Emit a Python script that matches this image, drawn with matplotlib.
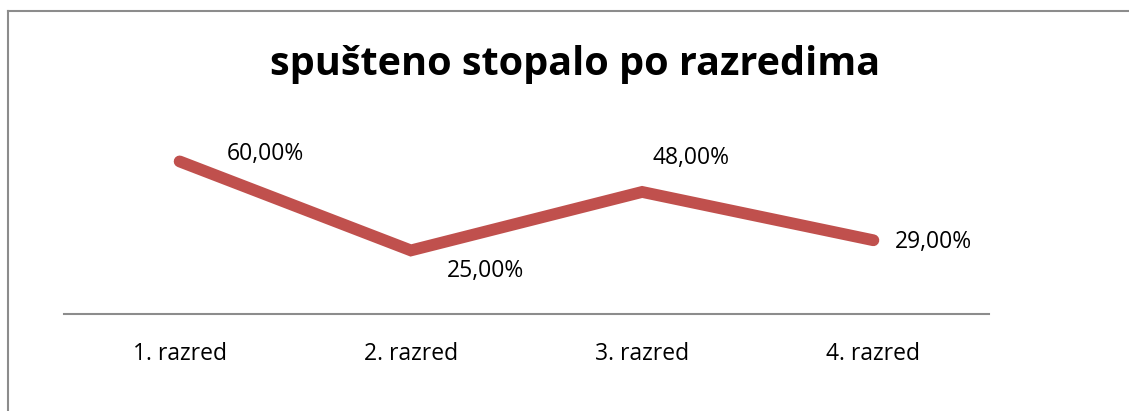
import matplotlib.pyplot as plt
from matplotlib.lines import Line2D

# data
razredi = ['1. razred', '2. razred', '3. razred', '4. razred']
postotci = [0.60, 0.25, 0.48, 0.29]
oznake = ['60,00%', '25,00%', '48,00%', '29,00%']
# label offsets in pixels (left edge of text, vertical centre)
pomaci = [(47, 7), (36, -21), (10, 34), (21, -2)]

plt.rcParams['font.family'] = ['Open Sans', 'DejaVu Sans']

fig = plt.figure(figsize=(11.29, 4.11), dpi=100)
fig.patch.set_facecolor('white')

# chart border: top and left edges only
W, H = 1129, 411
fig.lines.append(Line2D([8 / W, 1.0], [1 - 11 / H, 1 - 11 / H], transform=fig.transFigure,
                        color='#8c8c8c', linewidth=1.5))
fig.lines.append(Line2D([8 / W, 8 / W], [0, 1 - 11 / H], transform=fig.transFigure,
                        color='#8c8c8c', linewidth=1.5))

ax = fig.add_axes([64 / W, 97 / H, 925 / W, 178 / H])
x = range(len(razredi))
ax.plot(x, postotci, color='#C0504D', linewidth=8.5, solid_capstyle='round',
        solid_joinstyle='miter')

for xi, yi, txt, (dx, dy) in zip(x, postotci, oznake, pomaci):
    ax.annotate(txt, (xi, yi), xytext=(dx, dy), textcoords='offset pixels',
                ha='left', va='center', fontsize=16.5, color='black')

ax.set_xlim(-0.5, 3.5)
ax.set_ylim(0, 0.7)
ax.set_xticks(list(x))
ax.set_xticklabels(razredi, fontsize=16.5)
ax.tick_params(axis='x', length=0, pad=20)
ax.set_yticks([])
for s in ['top', 'left', 'right']:
    ax.spines[s].set_visible(False)
ax.spines['bottom'].set_color('#8c8c8c')
ax.spines['bottom'].set_linewidth(1.5)

fig.text(575 / W, 1 - 64 / H, 'spušteno stopalo po razredima',
         ha='center', va='center', fontsize=28.5, fontweight='bold')

fig.savefig('out.png', dpi=100, facecolor='white')
